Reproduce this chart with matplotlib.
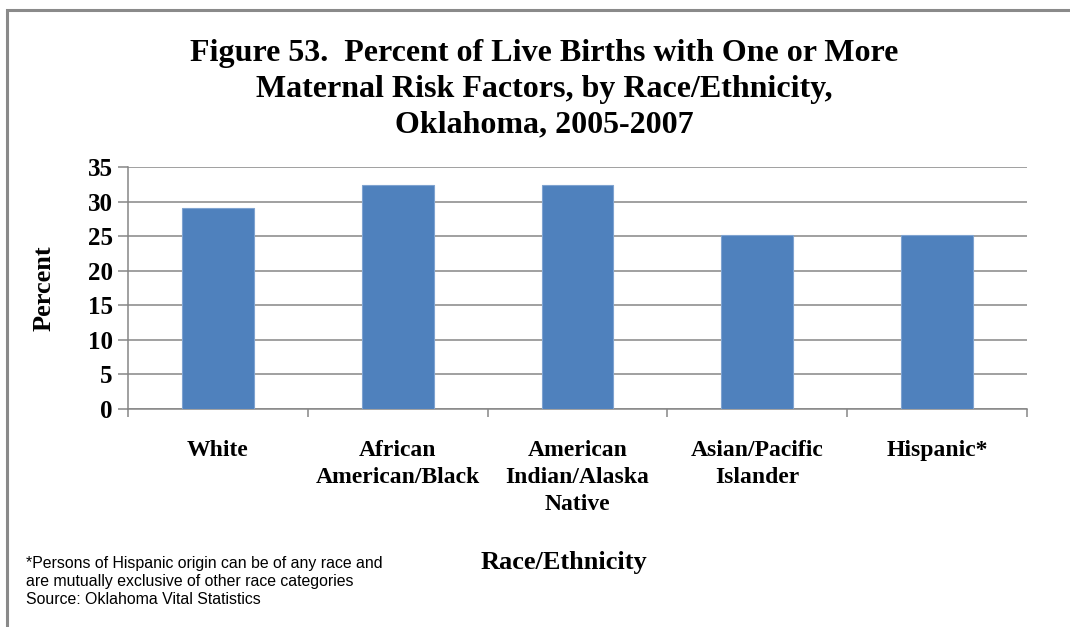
import matplotlib.pyplot as plt
from matplotlib.patches import Rectangle
import numpy as np

# percent of live births with one or more maternal risk factors
groups = ["White", "African\nAmerican/Black", "American\nIndian/Alaska\nNative",
          "Asian/Pacific\nIslander", "Hispanic*"]
percent = [29.0, 32.4, 32.4, 25.2, 25.1]
yticks = [0, 5, 10, 15, 20, 25, 30, 35]

title = ("Figure 53.  Percent of Live Births with One or More\n"
         "Maternal Risk Factors, by Race/Ethnicity,\n"
         "Oklahoma, 2005-2007")
footnote = ("*Persons of Hispanic origin can be of any race and\n"
            "are mutually exclusive of other race categories\n"
            "Source: Oklahoma Vital Statistics")

serif = "Liberation Serif"
grey = "#868686"

fig = plt.figure(figsize=(10.7, 6.27), dpi=100)
ax = fig.add_axes([0.1196, 0.3477, 0.8402, 0.386])

x = np.arange(len(groups))
ax.bar(x, percent, width=0.4, color="#4F81BD", edgecolor="#7FA3D0",
       linewidth=0.8, zorder=3)

ax.set_xlim(-0.5, len(groups) - 0.5)
ax.set_ylim(0, 35)
ax.set_yticks(yticks)
ax.set_yticklabels([str(v) for v in yticks], fontfamily=serif,
                   fontweight="bold", fontsize=18)
ax.yaxis.grid(True, color=grey, linewidth=1.1, zorder=0)
ax.set_axisbelow(True)

# category names under the bars, small ticks at category borders
ax.set_xticks(x)
ax.set_xticklabels(groups, fontfamily=serif, fontweight="bold",
                   fontsize=17, linespacing=1.4, va="top")
ax.tick_params(axis="x", which="major", length=0, pad=22)
ax.set_xticks(np.arange(-0.5, len(groups)), minor=True)
ax.tick_params(axis="x", which="minor", length=6, width=1.1, color=grey)
ax.tick_params(axis="y", length=7, width=1.1, color=grey, pad=4)

for side in ["top", "right"]:
    ax.spines[side].set_visible(False)
for side in ["left", "bottom"]:
    ax.spines[side].set_color(grey)
    ax.spines[side].set_linewidth(1.1)

fig.text(0.509, 0.858, title, ha="center", va="center", fontfamily=serif,
         fontweight="bold", fontsize=23, linespacing=1.29)
fig.text(0.041, 0.541, "Percent", rotation=90, ha="center", va="center",
         fontfamily=serif, fontweight="bold", fontsize=19)
fig.text(0.527, 0.103, "Race/Ethnicity", ha="center", va="center",
         fontfamily=serif, fontweight="bold", fontsize=19)
fig.text(0.024, 0.072, footnote, ha="left", va="center",
         fontfamily="Liberation Sans", fontsize=11.4, linespacing=1.24)

# outer chart frame
fig.patches.append(Rectangle((7 / 1070, -0.05), 1.1, 1 - 10 / 627 + 0.05,
                             transform=fig.transFigure, fill=False,
                             edgecolor="#8A8A8A", linewidth=2.2))

fig.savefig("out.png", dpi=100)
